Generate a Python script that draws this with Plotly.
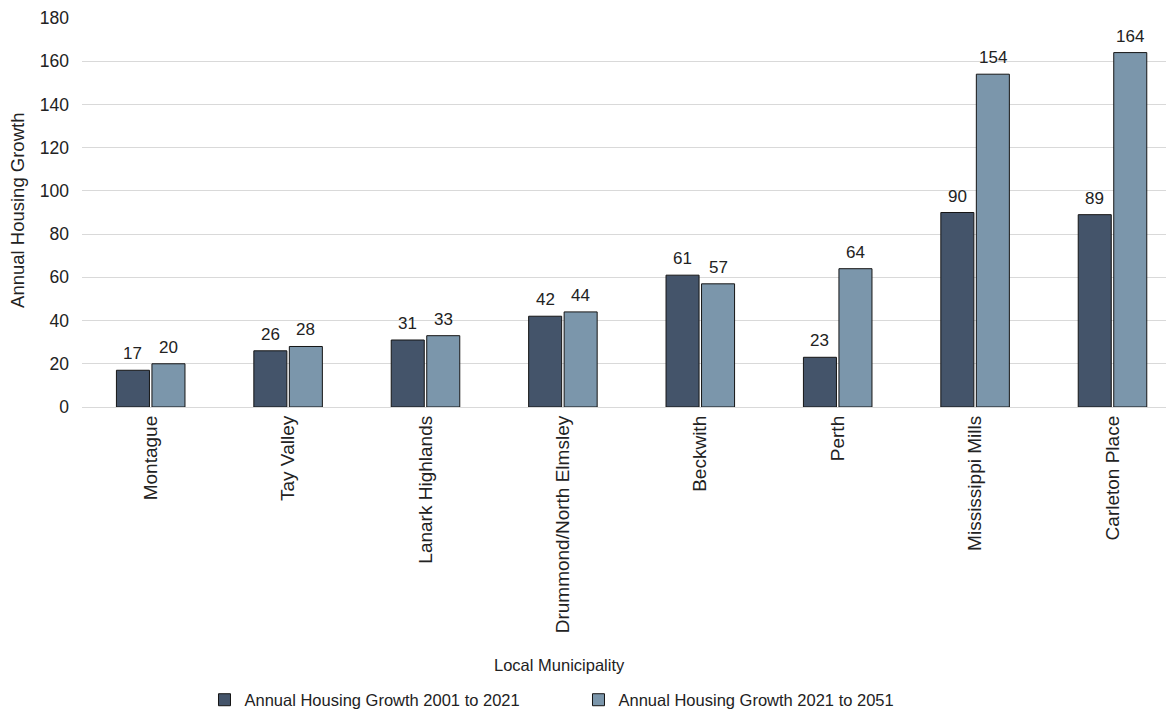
import plotly.graph_objects as go

categories = ["Montague", "Tay Valley", "Lanark Highlands", "Drummond/North Elmsley",
              "Beckwith", "Perth", "Mississippi Mills", "Carleton Place"]
growth_2001_2021 = [17, 26, 31, 42, 61, 23, 90, 89]
growth_2021_2051 = [20, 28, 33, 44, 57, 64, 154, 164]
series_names = ["Annual Housing Growth 2001 to 2021", "Annual Housing Growth 2021 to 2051"]
y_ticks = [0, 20, 40, 60, 80, 100, 120, 140, 160, 180]

FONT = "Liberation Sans, Arial, sans-serif"
TXT = "#222222"
W, H = 1166, 711
ML, MR, MT, MB = 74, 8, 10, 312

BARGAP = 0.483
GROUPGAP = 0.07
slot_off = (1 - BARGAP) / 4  # half of one bar slot in category units

fig = go.Figure()
annotations = []
for i, (name, vals, col) in enumerate([(series_names[0], growth_2001_2021, "#44546a"),
                                       (series_names[1], growth_2021_2051, "#7b96ab")]):
    fig.add_trace(go.Bar(
        x=categories, y=vals, name=name,
        marker=dict(color=col, line=dict(color="#151515", width=1)),
        cliponaxis=False,
    ))
    sign = -1 if i == 0 else 1
    for k, v in enumerate(vals):
        annotations.append(dict(
            x=k + sign * slot_off, y=v, xref="x", yref="y", text=str(v),
            showarrow=False, xanchor="center", yanchor="bottom", yshift=5,
            font=dict(family=FONT, size=17, color=TXT)))

plot_w = W - ML - MR
slot = 137.4
annotations += [
    dict(text="Annual Housing Growth", xref="paper", yref="paper",
         x=(10 - ML) / plot_w, y=0.504, textangle=-90, showarrow=False,
         xanchor="center", yanchor="middle",
         font=dict(family=FONT, size=18.5, color=TXT)),
    dict(text="Local Municipality", xref="paper", yref="paper",
         x=(551 - ML) / plot_w, y=(399 - 657) / 389, showarrow=False,
         xanchor="center", yanchor="middle",
         font=dict(family=FONT, size=16.5, color=TXT)),
]

fig.update_layout(
    width=W, height=H,
    margin=dict(l=ML, r=MR, t=MT, b=MB, autoexpand=False),
    paper_bgcolor="white", plot_bgcolor="white",
    barmode="group", bargap=BARGAP, bargroupgap=GROUPGAP,
    font=dict(family=FONT, color=TXT),
    xaxis=dict(
        range=[-0.5, -0.5 + plot_w / slot],
        tickangle=-90, tickfont=dict(family=FONT, size=19, color=TXT),
        showgrid=False, showline=False, ticks="", ticklabelstandoff=4,
    ),
    yaxis=dict(
        range=[0, 180], tickvals=y_ticks,
        tickfont=dict(family=FONT, size=17.5, color=TXT),
        showgrid=True, gridcolor="#d9d9d9", gridwidth=1,
        zeroline=True, zerolinecolor="#d9d9d9", zerolinewidth=1,
        showline=False, ticks="", ticklabelstandoff=12,
    ),
    legend=dict(
        orientation="h", x=0.113, xanchor="left", y=(399 - 692) / 389, yanchor="middle",
        font=dict(family=FONT, size=16.5, color=TXT),
        entrywidth=329, entrywidthmode="pixels", itemwidth=30,
        bgcolor="rgba(0,0,0,0)",
    ),
    showlegend=True,
    annotations=annotations,
)

fig.write_html("out.html")
